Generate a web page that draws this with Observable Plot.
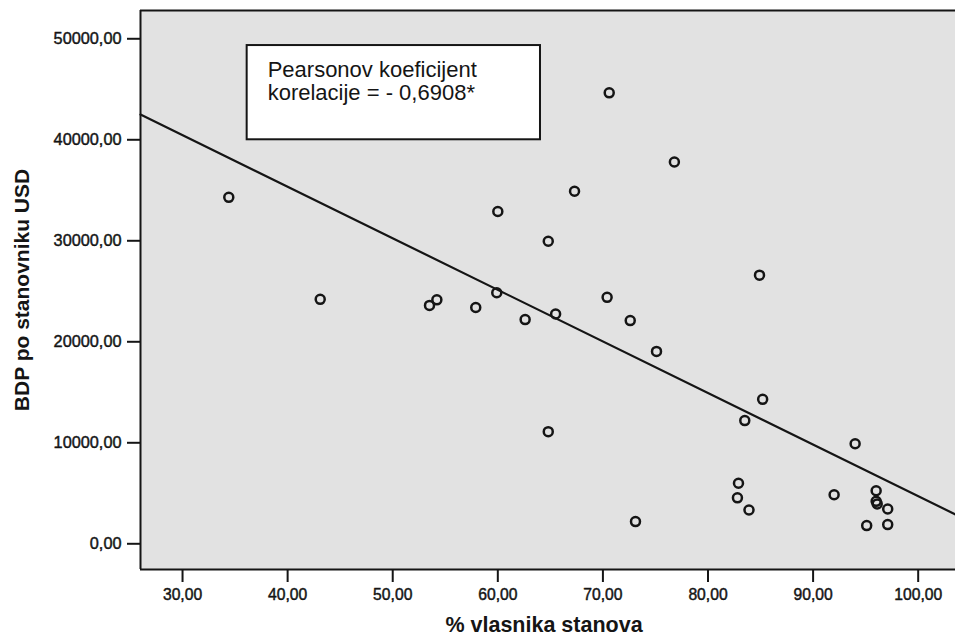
<!DOCTYPE html>
<html>
<head>
<meta charset="utf-8">
<script src="https://cdn.jsdelivr.net/npm/d3@7"></script>
<script src="https://cdn.jsdelivr.net/npm/@observablehq/plot@0.6"></script>
<style>
  html, body { margin: 0; padding: 0; background: #fff; }
  #chart { width: 955px; height: 636px; overflow: hidden; }
</style>
</head>
<body>
<div id="chart"></div>
<script>
// % vlasnika stanova (x) and BDP po stanovniku USD (y)
const ownership = [34.4, 43.1, 53.5, 54.2, 57.9, 59.9, 60.0, 64.8, 67.3, 70.6, 70.4, 65.5,
                   62.6, 72.6, 75.1, 64.8, 73.1, 76.8, 84.9, 85.2, 83.5, 94.0, 82.9, 82.8,
                   83.9, 92.0, 96.0, 96.0, 96.1, 97.1, 95.1, 97.1];
const gdp       = [34300, 24200, 23600, 24150, 23400, 24850, 32900, 29950, 34900, 44650, 24400, 22750,
                   22200, 22100, 19050, 11100, 2200, 37800, 26600, 14300, 12200, 9900, 6000, 4550,
                   3350, 4850, 5250, 4200, 3950, 3450, 1800, 1900];

// regression line
const fitIntercept = 55776;
const fitSlope = -510.6;

const xTicks = [30, 40, 50, 60, 70, 80, 90, 100];
const yTicks = [0, 10000, 20000, 30000, 40000, 50000];
const xDomain = [26.0, 103.55];
const yDomain = [-2545, 52800];

const xTitle = "% vlasnika stanova";
const yTitle = "BDP po stanovniku USD";
const noteLines = ["Pearsonov koeficijent", "korelacije = - 0,6908*"];
const noteBox = [{x1: 36.15, x2: 64.06, y1: 40000, y2: 49330}];
const noteAnchor = [{x: 38.1, y: 47900}];

const points = ownership.map((x, i) => ({x, y: gdp[i]}));
const fit = xDomain.map(x => ({x, y: fitIntercept + fitSlope * x}));
const fmt = d => d.toFixed(2).replace(".", ",");
const ink = "#151515";

const chart = Plot.plot({
  width: 955,
  height: 636,
  marginLeft: 140,
  marginRight: 0,
  marginTop: 10,
  marginBottom: 67,
  style: {fontFamily: "'Liberation Sans', Arial, sans-serif", fontSize: "16px", background: "#fff", color: ink},
  x: {domain: xDomain},
  y: {domain: yDomain},
  marks: [
    Plot.frame({fill: "#e2e2e2", stroke: "none"}),
    Plot.ruleX([xDomain[0]], {stroke: ink, strokeWidth: 2}),
    Plot.ruleY([yDomain[0], yDomain[1]], {stroke: ink, strokeWidth: 2}),
    Plot.axisX({ticks: xTicks, tickFormat: fmt, tickSize: 13, tickPadding: 6, strokeWidth: 2, fontSize: 15.7, label: null, fill: ink, textStroke: ink, textStrokeWidth: 0.45}),
    Plot.axisY({ticks: yTicks, tickFormat: fmt, tickSize: 13, tickPadding: 6, strokeWidth: 2, fontSize: 16.3, label: null, fill: ink, textStroke: ink, textStrokeWidth: 0.45}),
    Plot.line(fit, {x: "x", y: "y", stroke: ink, strokeWidth: 2.2}),
    Plot.dot(points, {x: "x", y: "y", r: 4.5, stroke: ink, strokeWidth: 2.5, fill: "none"}),
    Plot.rect(noteBox, {x1: "x1", x2: "x2", y1: "y1", y2: "y2", fill: "#fff", stroke: ink, strokeWidth: 2}),
    Plot.text(noteAnchor, {x: "x", y: "y", text: () => noteLines.join("\n"), textAnchor: "start", lineAnchor: "top", lineHeight: 1.06, fontSize: 22, fill: ink}),
    Plot.text([xTitle], {frameAnchor: "bottom", text: d => d, dy: 56, dx: -4, textAnchor: "middle", lineAnchor: "middle", fontSize: 21.5, fontWeight: "bold", fill: ink}),
    Plot.text([yTitle], {frameAnchor: "left", text: d => d, dx: -118, rotate: -90, textAnchor: "middle", lineAnchor: "middle", fontSize: 21, fontWeight: "bold", fill: ink})
  ]
});
document.getElementById("chart").appendChild(chart);
</script>
</body>
</html>
